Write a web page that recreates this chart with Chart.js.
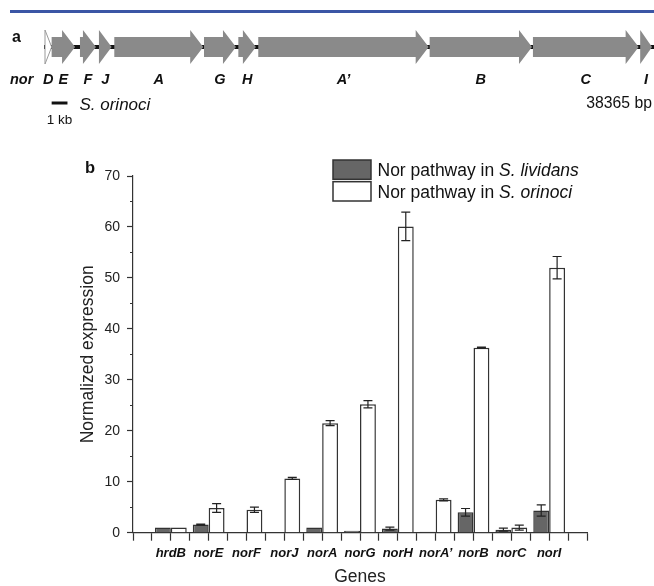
<!DOCTYPE html>
<html>
<head>
<meta charset="utf-8">
<script src="https://cdn.jsdelivr.net/npm/chart.js@4.4.1/dist/chart.umd.min.js"></script>
<style>
  html, body { margin: 0; padding: 0; background: #fff; }
  body { width: 654px; height: 586px; position: relative; overflow: hidden; }
  #rule { position: absolute; left: 10px; right: 0; top: 10px; height: 3px; background: #3b56a5; }
  #map-wrap { position: absolute; left: 0; top: 0; width: 654px; height: 130px; }
  #expr-wrap { position: absolute; left: 0; top: 130px; width: 654px; height: 456px; }
</style>
</head>
<body>
<div id="rule"></div>
<div id="map-wrap"><canvas id="chart-map" width="654" height="130"></canvas></div>
<div id="expr-wrap"><canvas id="chart-expr" width="654" height="456"></canvas></div>
<script>
// panel a - nor cluster of S. orinoci, positions in bp
const clusterLength = 38365;
const mapGenes = ["D", "E", "F", "J", "A", "G", "H", "A\u2019", "B", "C", "I"];
const geneStart = [0, 1900, 2210, 3410, 4380, 10050, 12220, 13480, 24310, 30840, 37620];
const geneEnd = [420, 420, 3220, 4210, 10000, 12070, 13330, 24250, 30780, 37520, 38365];
const scaleBarStart = 420;
const scaleBarBp = 1000;

// panel b - qPCR
const genes = ["hrdB", "norE", "norF", "norJ", "norA", "norG", "norH", "norA\u2019", "norB", "norC", "norI"];
const lividans = [1.0, 1.6, 0.1, 0.1, 1.0, 0.4, 0.8, 0.2, 4.0, 0.6, 4.35];
const lividansErr = [0, 0.1, 0, 0, 0, 0, 0.3, 0, 0.75, 0.3, 1.1];
const orinoci = [1.0, 4.85, 4.5, 10.65, 21.5, 25.2, 60.1, 6.45, 36.3, 1.0, 52.0];
const orinociErr = [0, 0.85, 0.5, 0.2, 0.5, 0.7, 2.8, 0.2, 0.1, 0.5, 2.2];
const seriesNames = [["Nor pathway in ", "S. lividans"], ["Nor pathway in ", "S. orinoci"]];
const yMax = 70;

const FONT = "'Liberation Sans', Arial, sans-serif";
Chart.defaults.font.family = FONT;
Chart.defaults.color = "#222";

document.addEventListener("DOMContentLoaded", () => {
  initMapChart();
  initExpressionChart();
});

function arrowPath(ctx, x0, x1, yc, bodyH, headH, headLen) {
  const dir = x1 >= x0 ? 1 : -1;
  const hl = Math.min(headLen, Math.abs(x1 - x0));
  const xb = x1 - dir * hl;
  ctx.beginPath();
  ctx.moveTo(x0, yc - bodyH / 2);
  ctx.lineTo(xb, yc - bodyH / 2);
  ctx.lineTo(xb, yc - headH / 2);
  ctx.lineTo(x1, yc);
  ctx.lineTo(xb, yc + headH / 2);
  ctx.lineTo(xb, yc + bodyH / 2);
  ctx.lineTo(x0, yc + bodyH / 2);
  ctx.closePath();
}

const geneArrows = {
  id: "geneArrows",
  beforeDatasetsDraw(chart) {
    const { ctx } = chart;
    const x = chart.scales.x;
    const yc = chart.getDatasetMeta(0).data[0].y;
    ctx.save();
    ctx.strokeStyle = "#111";
    ctx.lineWidth = 4;
    ctx.beginPath();
    ctx.moveTo(x.getPixelForValue(0) - 1, yc);
    ctx.lineTo(x.getPixelForValue(clusterLength) + 2, yc);
    ctx.stroke();
    ctx.restore();
  },
  afterDatasetsDraw(chart) {
    const { ctx } = chart;
    const x = chart.scales.x;
    ctx.save();
    chart.getDatasetMeta(0).data.forEach((bar, i) => {
      arrowPath(ctx, bar.base, bar.x, bar.y, 20, 34, 13);
      ctx.fillStyle = i === 0 ? "#fff" : "#8a8a8a";
      ctx.fill();
      if (i === 0) {
        ctx.strokeStyle = "#999";
        ctx.lineWidth = 1;
        ctx.stroke();
      }
    });

    ctx.fillStyle = "#111";
    ctx.textBaseline = "alphabetic";
    ctx.font = "bold 16px " + FONT;
    ctx.textAlign = "left";
    ctx.fillText("a", 12, 41.5);

    ctx.font = "italic bold 14.5px " + FONT;
    ctx.fillText("nor", 10, 83.5);
    ctx.textAlign = "center";
    mapGenes.forEach((g, i) => {
      const cx = (x.getPixelForValue(geneStart[i]) + x.getPixelForValue(geneEnd[i])) / 2;
      ctx.fillText(g, cx, 83.5);
    });

    // scale bar
    const sb0 = x.getPixelForValue(scaleBarStart);
    const sb1 = x.getPixelForValue(scaleBarStart + scaleBarBp);
    ctx.strokeStyle = "#111";
    ctx.lineWidth = 3;
    ctx.beginPath();
    ctx.moveTo(sb0, 103);
    ctx.lineTo(sb1, 103);
    ctx.stroke();
    ctx.font = "13.5px " + FONT;
    ctx.fillText("1 kb", (sb0 + sb1) / 2, 124);
    ctx.textAlign = "left";
    ctx.font = "italic 17px " + FONT;
    ctx.fillText("S. orinoci", sb1 + 12, 110);
    ctx.textAlign = "right";
    ctx.font = "15.75px " + FONT;
    ctx.fillText(clusterLength + " bp", x.getPixelForValue(clusterLength), 107.5);
    ctx.restore();
  },
};

function initMapChart() {
  const ctx = document.getElementById("chart-map");
  new Chart(ctx, {
    type: "bar",
    data: {
      labels: ["nor"],
      datasets: [
        {
          data: mapGenes.map((g, i) => ({ y: "nor", x: [geneStart[i], geneEnd[i]] })),
          backgroundColor: "rgba(0,0,0,0)",
          borderWidth: 0,
        },
      ],
    },
    options: {
      indexAxis: "y",
      responsive: false,
      animation: false,
      devicePixelRatio: 1,
      events: [],
      layout: { padding: { left: 45, right: 2, top: 30, bottom: 66 } },
      plugins: { legend: { display: false }, tooltip: { enabled: false } },
      scales: {
        x: { type: "linear", min: 0, max: clusterLength, display: false },
        y: { display: false },
      },
    },
    plugins: [geneArrows],
  });
}

const errorBars = {
  id: "errorBars",
  afterDatasetsDraw(chart) {
    const { ctx } = chart;
    const y = chart.scales.y;
    ctx.save();
    ctx.strokeStyle = "#222";
    ctx.lineWidth = 1.2;
    chart.data.datasets.forEach((ds, d) => {
      chart.getDatasetMeta(d).data.forEach((bar, i) => {
        const err = ds.errors[i];
        if (!err) return;
        const v = ds.data[i].y;
        const top = y.getPixelForValue(v + err);
        const bot = y.getPixelForValue(v - err);
        ctx.beginPath();
        ctx.moveTo(bar.x, top);
        ctx.lineTo(bar.x, bot);
        ctx.moveTo(bar.x - 4.5, top);
        ctx.lineTo(bar.x + 4.5, top);
        ctx.moveTo(bar.x - 4.5, bot);
        ctx.lineTo(bar.x + 4.5, bot);
        ctx.stroke();
      });
    });
    ctx.restore();
  },
};

const seriesLegend = {
  id: "seriesLegend",
  afterDraw(chart) {
    const { ctx, chartArea } = chart;
    const x0 = chartArea.left + 200;
    const y0 = chartArea.top - 16;
    ctx.save();
    chart.data.datasets.forEach((ds, i) => {
      const top = y0 + i * 21.7;
      ctx.fillStyle = ds.backgroundColor;
      ctx.strokeStyle = ds.borderColor;
      ctx.lineWidth = 1.5;
      ctx.fillRect(x0, top, 38, 19.3);
      ctx.strokeRect(x0, top, 38, 19.3);
      const [plain, ital] = seriesNames[i];
      let tx = x0 + 44.5;
      const base = top + 15.8;
      ctx.fillStyle = "#111";
      ctx.textAlign = "left";
      ctx.textBaseline = "alphabetic";
      ctx.font = "17.5px " + FONT;
      ctx.fillText(plain, tx, base);
      tx += ctx.measureText(plain).width;
      ctx.font = "italic 17.5px " + FONT;
      ctx.fillText(ital, tx, base);
    });
    ctx.fillStyle = "#111";
    ctx.font = "bold 16.5px " + FONT;
    ctx.fillText("b", 85, 43.3);
    ctx.restore();
  },
};

function initExpressionChart() {
  const ctx = document.getElementById("chart-expr");
  // half-category ticks halve the bar ruler, so the group fraction is doubled
  new Chart(ctx, {
    type: "bar",
    data: {
      datasets: [
        {
          label: seriesNames[0].join(""),
          data: lividans.map((v, i) => ({ x: i, y: v })),
          errors: lividansErr,
          backgroundColor: "#666666",
          borderColor: "#333333",
          borderWidth: 1.5,
          categoryPercentage: 1.68,
          barPercentage: 1,
        },
        {
          label: seriesNames[1].join(""),
          data: orinoci.map((v, i) => ({ x: i, y: v })),
          errors: orinociErr,
          backgroundColor: "#ffffff",
          borderColor: "#333333",
          borderWidth: 1.5,
          categoryPercentage: 1.68,
          barPercentage: 1,
        },
      ],
    },
    options: {
      responsive: false,
      animation: false,
      devicePixelRatio: 1,
      events: [],
      layout: { padding: { left: 79, right: 67, top: 46, bottom: 0 } },
      plugins: { legend: { display: false }, tooltip: { enabled: false } },
      scales: {
        x: {
          type: "linear",
          min: -1,
          max: genes.length,
          offset: false,
          grid: { offset: false, drawOnChartArea: false, tickLength: 8, tickColor: "#333", tickWidth: 1.2 },
          border: { color: "#333", width: 1.2 },
          ticks: {
            stepSize: 0.5,
            autoSkip: false,
            maxRotation: 0,
            minRotation: 0,
            padding: 5,
            color: "#111",
            font: { size: 13, style: "italic", weight: "bold" },
            callback: (v) => (Number.isInteger(v) && genes[v] ? genes[v] : ""),
          },
          title: { display: true, text: "Genes", color: "#222", padding: 0, font: { size: 17.5, lineHeight: 1 } },
          afterFit: (s) => {
            s.height = 53.3;
          },
        },
        y: {
          min: 0,
          max: yMax,
          grid: {
            drawOnChartArea: false,
            tickLength: 6,
            tickColor: "#333",
            tickWidth: 1.2,
            tickBorderDash: (c) => (c.tick && c.tick.value % 10 !== 0 ? [0, 3, 3, 20] : []),
          },
          border: { color: "#333", width: 1.2 },
          ticks: {
            stepSize: 5,
            padding: 7,
            color: "#222",
            font: { size: 14 },
            callback: (v) => (v % 10 === 0 ? v : ""),
          },
          title: { display: true, text: "Normalized expression", color: "#222", padding: 0, font: { size: 17.5, lineHeight: 1 } },
          afterFit: (s) => {
            s.width = 54;
          },
        },
      },
    },
    plugins: [errorBars, seriesLegend],
  });
}
</script>
</body>
</html>
